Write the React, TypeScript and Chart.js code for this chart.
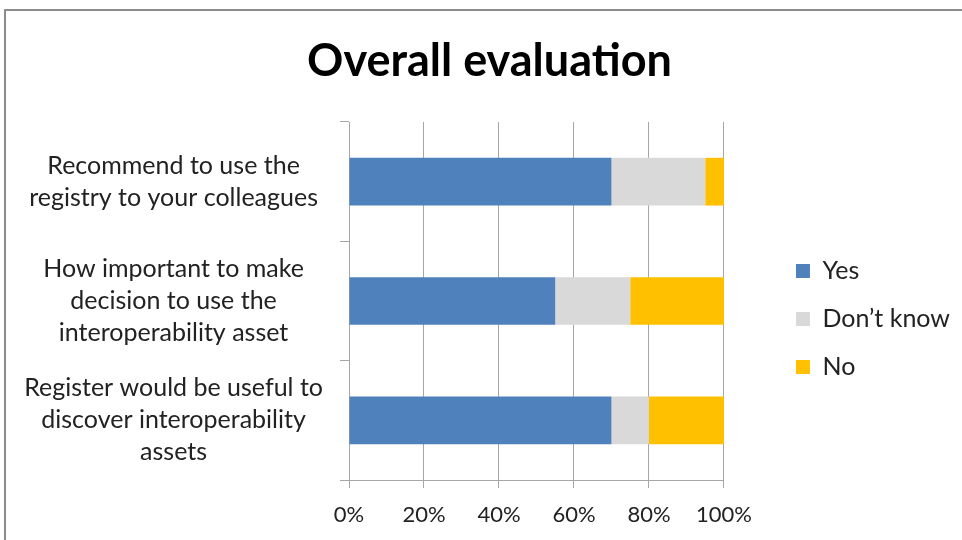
import { useEffect, useRef } from "react";
import { Chart, registerables } from "chart.js";

Chart.register(...registerables);

// Survey questions (multi-line category labels)
const categories: string[][] = [
  ["Recommend to use the", "registry to your colleagues"],
  ["How important to make", "decision to use the", "interoperability asset"],
  ["Register would be useful to", "discover interoperability", "assets"],
];

// Share of answers per question, in percent
const yesValues = [70, 55, 70];
const dontKnowValues = [25, 20, 10];
const noValues = [5, 25, 20];

const seriesNames = ["Yes", "Don\u2019t know", "No"];
const percentStep = 20;
const percentMax = 100;

const FONT = "Lato, 'Open Sans', sans-serif";
const GRID = "#a6a6a6";

// Moves the legend block into the right-hand margin and re-centres the title
const blockOffsets = {
  id: "blockOffsets",
  afterLayout(chart: any) {
    const lg = chart.legend;
    if (lg) {
      lg.left += 49;
      lg.right += 49;
      lg.top += 49;
      lg.bottom += 49;
    }
    const tb = chart.titleBlock;
    if (tb) {
      tb.left += 29;
      tb.right += 29;
    }
  },
};

export default function App() {
  const canvasRef = useRef<HTMLCanvasElement | null>(null);

  useEffect(() => {
    const canvas = canvasRef.current;
    if (!canvas) return;
    const chart = new Chart(canvas, {
      type: "bar",
      data: {
        labels: categories,
        datasets: [
          { label: seriesNames[0], data: yesValues, backgroundColor: "#4f81bd" },
          { label: seriesNames[1], data: dontKnowValues, backgroundColor: "#d9d9d9" },
          { label: seriesNames[2], data: noValues, backgroundColor: "#ffc000" },
        ],
      },
      options: {
        indexAxis: "y",
        responsive: false,
        animation: false,
        datasets: {
          bar: { barPercentage: 0.4, categoryPercentage: 1, borderWidth: 0 },
        },
        layout: { padding: { left: 10, top: 12, right: 51, bottom: 12 } },
        scales: {
          x: {
            stacked: true,
            min: 0,
            max: percentMax,
            afterFit: (scale: any) => {
              scale.height = 48;
            },
            grid: { color: GRID, lineWidth: 1, tickLength: 8 },
            border: { color: GRID, width: 1 },
            ticks: {
              stepSize: percentStep,
              padding: 14,
              color: "#222",
              font: { family: FONT, size: 22 },
              callback: (v: any) => `${v}%`,
            },
          },
          y: {
            stacked: true,
            afterFit: (scale: any) => {
              scale.width = 339;
              scale.paddingTop = 0;
              scale.paddingBottom = 0;
            },
            grid: {
              offset: true,
              drawOnChartArea: false,
              color: GRID,
              tickLength: 9,
            },
            border: { color: GRID, width: 1 },
            ticks: {
              crossAlign: "center",
              padding: 17,
              color: "#222",
              font: { family: FONT, size: 25, lineHeight: 32 / 25 },
            },
          },
        },
        plugins: {
          title: {
            display: true,
            text: "Overall evaluation",
            color: "#000",
            font: { family: FONT, size: 45, weight: "bold", lineHeight: 1.2 },
            padding: { top: 22, bottom: 34 },
          },
          legend: {
            position: "right",
            align: "center",
            labels: {
              boxWidth: 14,
              boxHeight: 14,
              padding: 23,
              color: "#222",
              font: { family: FONT, size: 25 },
            },
          },
          tooltip: { enabled: false },
        },
      },
      plugins: [blockOffsets],
    });
    return () => chart.destroy();
  }, []);

  return (
    <div
      style={{
        position: "fixed",
        inset: 0,
        background: "#fff",
        overflow: "hidden",
      }}
    >
      <div
        style={{
          position: "absolute",
          left: 4,
          top: 9,
          width: 1100,
          height: 700,
          border: "2px solid #8c8c8c",
        }}
      />
      <canvas
        ref={canvasRef}
        width={962}
        height={540}
        style={{ position: "absolute", left: 0, top: 0, width: 962, height: 540 }}
      />
    </div>
  );
}
